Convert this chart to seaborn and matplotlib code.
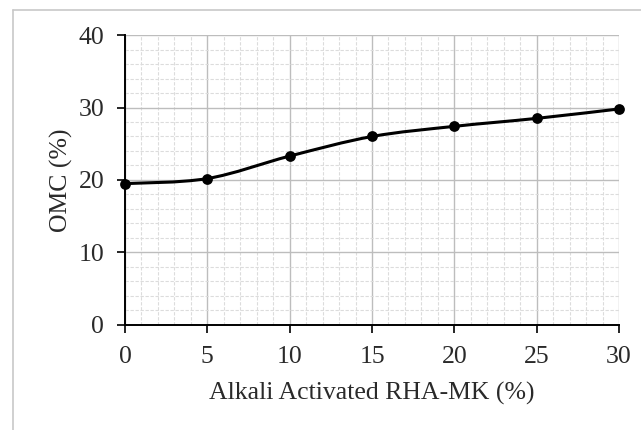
import numpy as np
import pandas as pd
import matplotlib
matplotlib.use("Agg")
import matplotlib.pyplot as plt
from matplotlib.path import Path
from matplotlib.patches import PathPatch
from matplotlib.lines import Line2D
from matplotlib.ticker import MultipleLocator
import seaborn as sns

# Optimum moisture content vs. binder dosage
rha_mk_pct = [0, 5, 10, 15, 20, 25, 30]
omc_pct = [19.5, 20.2, 23.3, 26.0, 27.4, 28.5, 29.8]

x_ticks = [0, 5, 10, 15, 20, 25, 30]
y_ticks = [0, 10, 20, 30, 40]

sns.set_theme(style="white")
plt.rcParams["font.family"] = ["Liberation Serif", "DejaVu Serif"]

df = pd.DataFrame({"x": rha_mk_pct, "y": omc_pct})

fig = plt.figure(figsize=(6.41, 4.30), dpi=100)
ax = fig.add_axes([0.195, 0.2442, 0.7707, 0.6744])

# smoothed connecting line (Catmull-Rom style Bezier segments)
pts = df[["x", "y"]].to_numpy(dtype=float)
n = len(pts)
verts = [tuple(pts[0])]
codes = [Path.MOVETO]
for i in range(n - 1):
    p0 = pts[i - 1] if i > 0 else pts[i]
    p1 = pts[i]
    p2 = pts[i + 1]
    p3 = pts[i + 2] if i + 2 < n else pts[i + 1]
    c1 = p1 + (p2 - p0) / 6.0
    c2 = p2 - (p3 - p1) / 6.0
    verts += [tuple(c1), tuple(c2), tuple(p2)]
    codes += [Path.CURVE4, Path.CURVE4, Path.CURVE4]
ax.add_patch(PathPatch(Path(verts, codes), facecolor="none", edgecolor="black",
                       lw=2.2, zorder=3, capstyle="round", joinstyle="round"))

sns.scatterplot(data=df, x="x", y="y", ax=ax, color="black", s=60,
                edgecolor="black", linewidth=0, zorder=4, clip_on=False)

ax.set_xlim(0, 30)
ax.set_ylim(0, 40)
ax.set_xticks(x_ticks)
ax.set_yticks(y_ticks)
ax.xaxis.set_minor_locator(MultipleLocator(1))
ax.yaxis.set_minor_locator(MultipleLocator(2))

ax.grid(which="major", color="#bdbdbd", lw=1.0, ls="-")
ax.grid(which="minor", color="#dcdcdc", lw=0.8, ls=(0, (3, 1.5)))
ax.set_axisbelow(True)

for side in ("top", "right"):
    ax.spines[side].set_visible(False)
for side in ("left", "bottom"):
    ax.spines[side].set_color("black")
    ax.spines[side].set_linewidth(1.4)
    ax.spines[side].set_zorder(5)

text_color = "#2a2a2a"
ax.tick_params(which="major", direction="out", length=6, width=1.2,
               color="black", labelsize=18.5, labelcolor=text_color, pad=9)
ax.tick_params(axis="y", which="major", pad=9)
ax.tick_params(which="minor", length=0)
ax.tick_params(bottom=True, left=True)

ax.set_xlabel("Alkali Activated RHA-MK (%)", fontsize=18.5, color=text_color, labelpad=10)
ax.set_ylabel("OMC (%)", fontsize=18.5, color=text_color, labelpad=4)

# chart frame
fig.add_artist(Line2D([13 / 641, 13 / 641], [0, 1 - 10 / 430], transform=fig.transFigure,
                      color="#c8c8c8", lw=1.2))
fig.add_artist(Line2D([13 / 641, 1], [1 - 10 / 430, 1 - 10 / 430], transform=fig.transFigure,
                      color="#c8c8c8", lw=1.2))

fig.savefig("out.png", dpi=100)
